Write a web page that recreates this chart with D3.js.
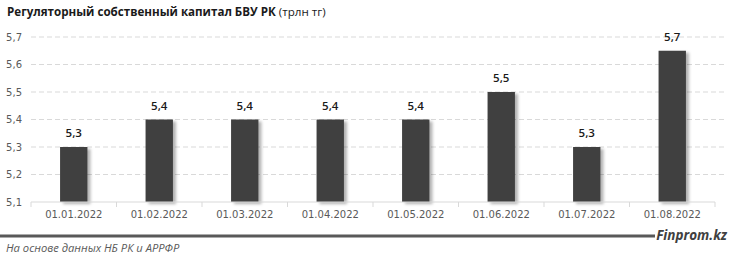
<!DOCTYPE html>
<html lang="ru">
<head>
<meta charset="utf-8">
<script src="https://d3js.org/d3.v7.min.js"></script>
<style>
  body { margin: 0; background: #fff; }
  svg { display: block; }
  .axis text { font-family: "DejaVu Sans", sans-serif; font-size: 10px; fill: #595959; }
</style>
</head>
<body>
<script>
// data
const categories = ["01.01.2022", "01.02.2022", "01.03.2022", "01.04.2022", "01.05.2022", "01.06.2022", "01.07.2022", "01.08.2022"];
const values = [5.3, 5.4, 5.4, 5.4, 5.4, 5.5, 5.3, 5.65];
const yTicks = [5.1, 5.2, 5.3, 5.4, 5.5, 5.6, 5.7];

const w = 731, h = 259;
const plotLeft = 31, plotRight = 715, plotTop = 37, plotBottom = 202;
const fmt = d => d3.format(".1f")(d).replace(".", ",");

const svg = d3.select("body").append("svg")
  .attr("width", w)
  .attr("height", h);

const defs = svg.append("defs");
const f = defs.append("filter").attr("id", "shadow")
  .attr("x", "-20%").attr("y", "-10%").attr("width", "150%").attr("height", "130%");
f.append("feDropShadow").attr("dx", 3).attr("dy", 2).attr("stdDeviation", 1.5)
  .attr("flood-color", "#000").attr("flood-opacity", 0.3);

// scales
const x = d3.scaleBand().domain(categories).range([plotLeft, plotRight]).paddingInner(0.68).paddingOuter(0.34);
const y = d3.scaleLinear().domain([5.1, 5.7]).range([plotBottom, plotTop]);

// title
const title = svg.append("text").attr("x", 7).attr("y", 16)
  .attr("font-family", "'Open Sans', sans-serif").attr("font-size", 11.6).attr("fill", "#1a1a1a");
title.append("tspan").attr("font-weight", "bold").text("Регуляторный собственный капитал БВУ РК");
title.append("tspan").text(" (трлн тг)");

// gridlines
svg.append("g").selectAll("line")
  .data(yTicks.slice(1))
  .join("line")
  .attr("x1", plotLeft).attr("x2", 725)
  .attr("y1", d => y(d)).attr("y2", d => y(d))
  .attr("stroke", "#d9d9d9").attr("stroke-dasharray", "5,3");

// y axis
const yAxis = d3.axisLeft(y).tickValues(yTicks).tickFormat(fmt).tickSize(0).tickPadding(9);
svg.append("g").attr("class", "axis")
  .attr("transform", `translate(${plotLeft},0)`)
  .call(yAxis)
  .call(g => g.select(".domain").remove());

// bars
svg.append("g").selectAll("rect")
  .data(values)
  .join("rect")
  .attr("x", (d, i) => x(categories[i]))
  .attr("width", x.bandwidth())
  .attr("y", d => y(d))
  .attr("height", d => plotBottom - y(d))
  .attr("fill", "#404040")
  .attr("filter", "url(#shadow)");

// x axis
const step = x.step();
const xAxis = d3.axisBottom(x).tickSize(0).tickPadding(9);
const gx = svg.append("g").attr("class", "axis")
  .attr("transform", `translate(0,${plotBottom})`)
  .call(xAxis);
gx.select(".domain").attr("stroke", "#d9d9d9").attr("d", `M${plotLeft},0H${plotRight}`);
gx.selectAll("text").attr("font-size", 10.5);
gx.append("g").selectAll("line")
  .data(d3.range(categories.length + 1))
  .join("line")
  .attr("x1", i => plotLeft + i * step).attr("x2", i => plotLeft + i * step)
  .attr("y1", 0).attr("y2", 5)
  .attr("stroke", "#d9d9d9");

// value labels
svg.append("g").selectAll("text")
  .data(values)
  .join("text")
  .attr("x", (d, i) => x(categories[i]) + x.bandwidth() / 2)
  .attr("y", d => y(d) - 10)
  .attr("text-anchor", "middle")
  .attr("font-family", "'Open Sans', sans-serif")
  .attr("font-size", 11.5)
  .attr("font-weight", 600)
  .attr("fill", "#1a1a1a")
  .text(fmt);

// footer
svg.append("line").attr("x1", 0).attr("x2", 655).attr("y1", 236).attr("y2", 236)
  .attr("stroke", "#595959").attr("stroke-width", 3);
svg.append("text").attr("x", 727).attr("y", 240).attr("text-anchor", "end")
  .attr("font-family", "'Open Sans', sans-serif").attr("font-size", 13.5)
  .attr("font-weight", "bold").attr("font-style", "italic").attr("fill", "#404040")
  .text("Finprom.kz");
svg.append("text").attr("x", 6).attr("y", 252)
  .attr("font-family", "'Open Sans', sans-serif").attr("font-size", 11.2)
  .attr("font-style", "italic").attr("fill", "#595959")
  .text("На основе данных НБ РК и АРРФР");
</script>
</body>
</html>
